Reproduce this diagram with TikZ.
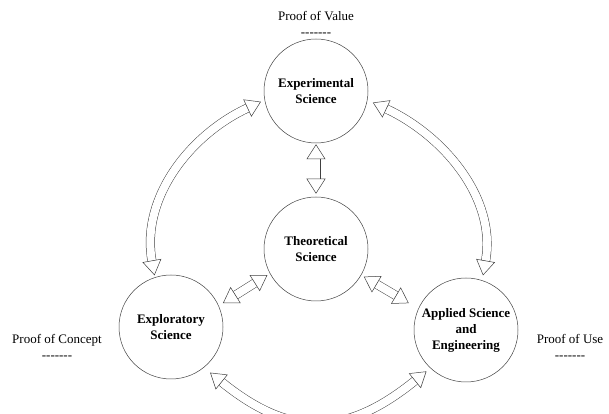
\documentclass[tikz,border=0pt]{standalone}
\usepackage{fontspec}
\setmainfont{Liberation Serif}
\usetikzlibrary{arrows.meta}
\tikzset{
  scicircle/.style={circle,draw=black!75,line width=0.5pt,minimum size=104pt,inner sep=0pt,
    align=center,font=\fontsize{13}{16}\selectfont\bfseries},
  hollow/.style={draw=black!75,line width=0.5pt,double=white,double distance=8pt,
    shorten <=3pt,shorten >=3pt,
    {Triangle[open,width=19pt,length=15pt]}-{Triangle[open,width=19pt,length=15pt]}},
  prooflabel/.style={align=center,font=\fontsize{13}{16}\selectfont}
}
\newcommand{\scinode}[4]{\node[scicircle] (#3) at (#1,#2) {#4};}
\newcommand{\hedge}[3]{\draw[hollow,#3] (#1) to (#2);}
\newcommand{\dashrow}{-{}-{}-{}-{}-{}-{}-}

\begin{document}
\begin{tikzpicture}[x=1pt,y=1pt]
  \useasboundingbox (0,0) rectangle (609,414);
  \scinode{316}{323}{exp}{Experimental\\Science}
  \scinode{316}{165}{theo}{Theoretical\\Science}
  \scinode{171}{87}{expl}{Exploratory\\Science}
  \scinode{466}{84}{appl}{Applied Science\\and\\Engineering}
  % straight ones
  \hedge{exp}{theo}{shorten <=1pt}
  \hedge{expl.24}{theo.208}{shorten <=5pt,shorten >=3pt}
  \hedge{theo.330}{appl.156}{shorten >=11pt}
  % outer ring
  \hedge{exp.190}{expl.108}{out=205,in=100,shorten <=4pt,shorten >=2pt}
  \hedge{exp.350}{appl.72}{out=335,in=80,shorten <=6pt,shorten >=5pt}
  \hedge{expl.309}{appl.227}{out=321,in=219,looseness=1.24,shorten <=8pt,shorten >=5pt}
  \node[prooflabel] (value) at (316,390) {Proof of Value\\\dashrow};
  \node[prooflabel] (concept) at (57,67.5) {Proof of Concept\\\dashrow};
  \node[prooflabel] (use) at (570,67.5) {Proof of Use\\\dashrow};
\end{tikzpicture}
\end{document}
